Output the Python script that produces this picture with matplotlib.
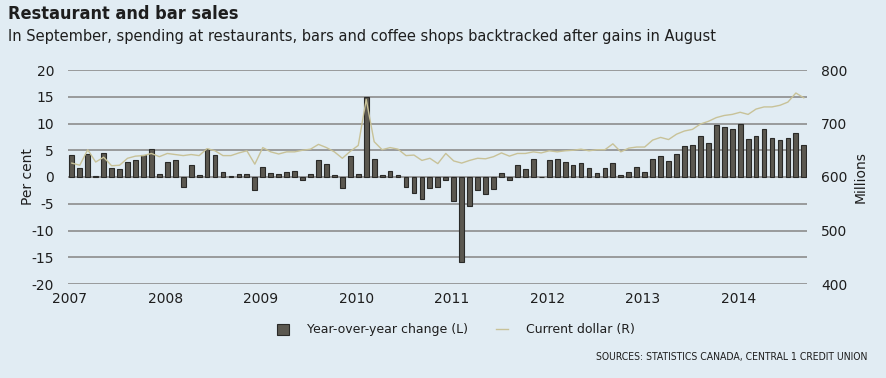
import matplotlib
matplotlib.use("Agg")
import matplotlib.pyplot as plt
import numpy as np
from matplotlib.patches import Rectangle
from matplotlib.lines import Line2D
from matplotlib import font_manager

plt.rcParams["axes.unicode_minus"] = False

# Monthly data, Jan 2007 - Sep 2014
yoy_change = [
    4.1, 1.6, 4.3, 0.1, 4.4, 1.75, 1.5, 2.8, 3.1, 4.1, 5.25, 0.5,
    2.8, 3.1, -1.9, 2.2, 0.3, 5.25, 4.1, 0.9, 0.25, 0.5, 0.5, -2.5,
    1.8, 0.75, 0.55, 0.95, 1.2, -0.6, 0.55, 3.25, 2.45, 0.4, -2.1, 4.0,
    0.55, 15.0, 3.45, 0.3, 1.1, 0.3, -1.9, -3.05, -4.05, -2.1, -1.9, -0.6,
    -4.55, -15.8, -5.4, -2.45, -3.25, -2.25, 0.75, -0.55, 2.2, 1.5, 3.45, 0.05,
    3.1, 3.45, 2.8, 2.25, 2.6, 1.6, 0.75, 1.7, 2.6, 0.4, 0.95, 1.9,
    0.95, 3.3, 3.9, 3.0, 4.3, 5.8, 5.95, 7.6, 6.3, 9.8, 9.4, 8.9,
    9.95, 7.1, 7.75, 9.0, 7.3, 6.9, 7.2, 8.3, 6.05,
]
current_dollar = [
    626, 622, 651, 628, 637, 621, 622, 635, 639, 640, 644, 638,
    644, 642, 640, 642, 640, 653, 649, 640, 640, 645, 649, 624,
    655, 647, 643, 647, 647, 650, 652, 661, 655, 647, 635, 648,
    659, 745, 666, 651, 655, 652, 640, 641, 631, 635, 625, 644,
    630, 626, 631, 635, 634, 638, 645, 639, 644, 644, 647, 645,
    649, 647, 649, 650, 652, 649, 651, 651, 662, 647, 654, 656,
    656, 669, 674, 670, 680, 686, 689, 699, 704, 711, 715, 717,
    721, 717, 727, 731, 731, 734, 740, 757, 748,
]
year_labels = ["2007", "2008", "2009", "2010", "2011", "2012", "2013", "2014"]
left_ticks = [20, 15, 10, 5, 0, -5, -10, -15, -20]
right_ticks = [800, 700, 600, 500, 400]

BG = "#e1ecf3"
BAR = "#5b5850"
BAR_EDGE = "#2a2a28"
LINE = "#c8c298"
GRID = "#8c8c8c"
TXT = "#1e1e1e"

names = {f.name for f in font_manager.fontManager.ttflist}
COND = "Liberation Sans Narrow" if "Liberation Sans Narrow" in names else "DejaVu Sans"

fig = plt.figure(figsize=(8.87, 3.78), dpi=100, facecolor=BG)
ax = fig.add_axes([68/887, 1-284/378, (807-68)/887, (284-70)/378])
ax.set_facecolor(BG)

n = len(yoy_change)
x = 2007 + np.arange(n) / 12 + 0.02
ax.bar(x, yoy_change, width=0.6/12, color=BAR, edgecolor=BAR_EDGE, linewidth=0.8, zorder=3)

ax.set_xlim(2006.98, 2014.72)
ax.set_ylim(-20, 20)
ax.set_yticks(left_ticks)
for t in left_ticks:
    ax.axhline(t, color=GRID, lw=1.2, zorder=1)
ax.set_xticks(range(2007, 2015))
ax.set_xticklabels(year_labels)
ax.tick_params(axis="both", length=0, labelsize=10, colors=TXT)
ax.tick_params(axis="x", pad=6)
ax.tick_params(axis="y", pad=10)
for s in ax.spines.values():
    s.set_visible(False)
ax.grid(False)
ax.set_ylabel("Per cent", fontsize=10, color=TXT)
ax.yaxis.set_label_coords(-0.0447, 0.5)

ax2 = ax.twinx()
ax2.set_ylim(400, 800)
ax2.plot(x, current_dollar, color=LINE, lw=1.0, zorder=4)
ax2.set_yticks(right_ticks)
ax2.tick_params(axis="y", length=0, labelsize=10, colors=TXT, pad=10)
for s in ax2.spines.values():
    s.set_visible(False)
ax2.set_ylabel("Millions", fontsize=10, color=TXT)
ax2.yaxis.set_label_coords(1.0636, 0.5)
ax2.patch.set_visible(False)

fig.text(8/887, 1-14/378, "Restaurant and bar sales", fontsize=13, fontweight="bold",
         family=COND, fontstretch="condensed", color=TXT, va="center", ha="left")
fig.text(8/887, 1-36/378, "In September, spending at restaurants, bars and coffee shops backtracked after gains in August",
         fontsize=10.5, color=TXT, va="center", ha="left")

# Legend
handles = [
    Rectangle((0, 0), 1, 1, facecolor=BAR, edgecolor=BAR_EDGE, linewidth=0.8),
    Line2D([0], [0], color=LINE, lw=1.0),
]
leg = fig.legend(handles, ["Year-over-year change (L)", "Current dollar (R)"],
                 loc="center", bbox_to_anchor=(456/887, 1-330/378), ncol=2, frameon=False,
                 fontsize=9, handlelength=0.95, handleheight=0.95, columnspacing=2.2,
                 handletextpad=1.5, labelcolor=TXT)

fig.text(867/887, 1-357/378, "SOURCES: STATISTICS CANADA, CENTRAL 1 CREDIT UNION", fontsize=7.5,
         family=COND, fontstretch="condensed", color=TXT, va="center", ha="right")

fig.savefig("out.png", dpi=100, facecolor=BG)
